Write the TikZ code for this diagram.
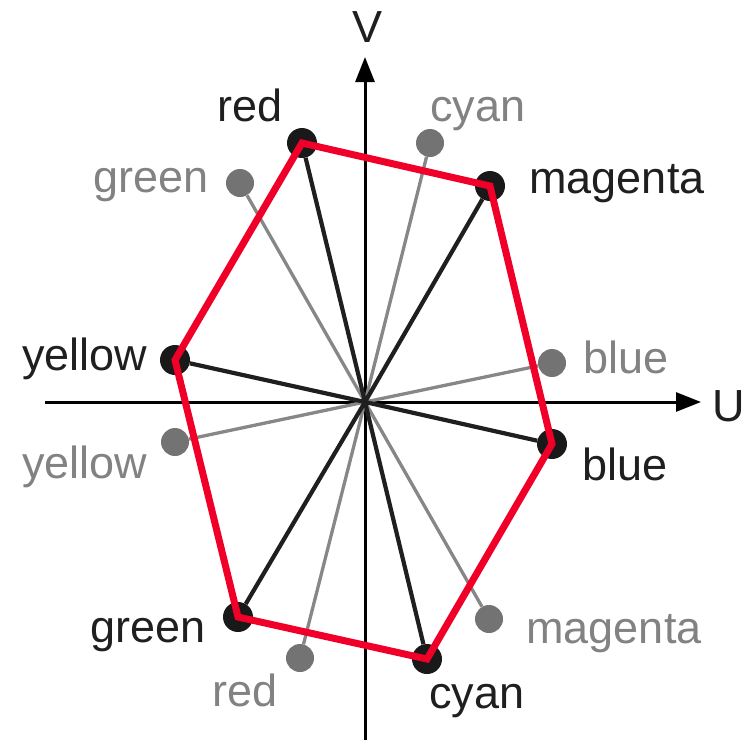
\documentclass[tikz,border=0pt]{standalone}
\usepackage{fontspec}
\setmainfont{Liberation Sans}
\usetikzlibrary{arrows.meta}
\definecolor{hexred}{RGB}{240,0,40}
\definecolor{dotgray}{RGB}{115,115,115}
\definecolor{linegray}{RGB}{135,135,135}
\definecolor{labgray}{RGB}{130,130,130}
\tikzset{
  axis/.style={line width=3pt, -{Triangle[length=25pt,width=19pt]}},
  bdot/.style={circle, fill=black!90, minimum size=30pt, inner sep=0pt},
  gdot/.style={circle, fill=dotgray, minimum size=28pt, inner sep=0pt},
  bspoke/.style={line width=4.2pt, black!88},
  gspoke/.style={line width=3.3pt, linegray},
  blab/.style={anchor=base, font=\fontsize{45}{45}\selectfont, text=black!88, inner sep=0pt},
  glab/.style={anchor=base, font=\fontsize{45}{45}\selectfont, text=labgray, inner sep=0pt},
  hex/.style={line width=7pt, hexred, line join=miter}
}
\begin{document}
\begin{tikzpicture}[x=1pt,y=-1pt]
\useasboundingbox (0,0) rectangle (751,740);
\coordinate (O) at (365,402);
\coordinate (ul) at (45,402);
\coordinate (ur) at (701,402);
\coordinate (vb) at (365,740);
\coordinate (vt) at (365,57);
% axes
\draw[axis] (ul) -- (ur);
\draw[axis] (vb) -- (vt);
\node[blab] (Vl) at (368,42) {V};
\node[blab] (Ul) at (729,421) {U};
% gray dots
\node[gdot] (gcy) at (430,143) {};
\node[gdot] (ggr) at (240,183) {};
\node[gdot] (gbl) at (552,363) {};
\node[gdot] (gyl) at (175,442) {};
\node[gdot] (gmg) at (489,619) {};
\node[gdot] (grd) at (300,658) {};
% black dots
\node[bdot] (rd) at (302,143) {};
\node[bdot] (mg) at (490,186) {};
\node[bdot] (yl) at (175,360) {};
\node[bdot] (bl) at (552,444) {};
\node[bdot] (gr) at (238,617) {};
\node[bdot] (cy) at (427,659) {};
% spokes
\foreach \n in {gcy,ggr,gbl,gyl,gmg,grd} \draw[gspoke] (O) -- (\n);
\foreach \n in {rd,mg,yl,bl,gr,cy} \draw[bspoke] (O) -- (\n);
% hexagon
\draw[hex] (rd.center) -- (mg.center) -- (bl.center) -- (cy.center) -- (gr.center) -- (yl.center) -- cycle;
% labels
\node[blab] (lrd) at (250,121) {red};
\node[glab] (lgcy) at (478,121) {cyan};
\node[glab] (lggr) at (151,192) {green};
\node[blab] (lmg) at (617,193) {magenta};
\node[blab] (lyl) at (85,370) {yellow};
\node[glab] (lgbl) at (626,373) {blue};
\node[glab] (lgyl) at (85,478) {yellow};
\node[blab] (lbl) at (625,480) {blue};
\node[blab] (lgr) at (148,642) {green};
\node[glab] (lgmg) at (614,643) {magenta};
\node[glab] (lgrd) at (245,706) {red};
\node[blab] (lcy) at (477,708) {cyan};
\end{tikzpicture}
\end{document}
